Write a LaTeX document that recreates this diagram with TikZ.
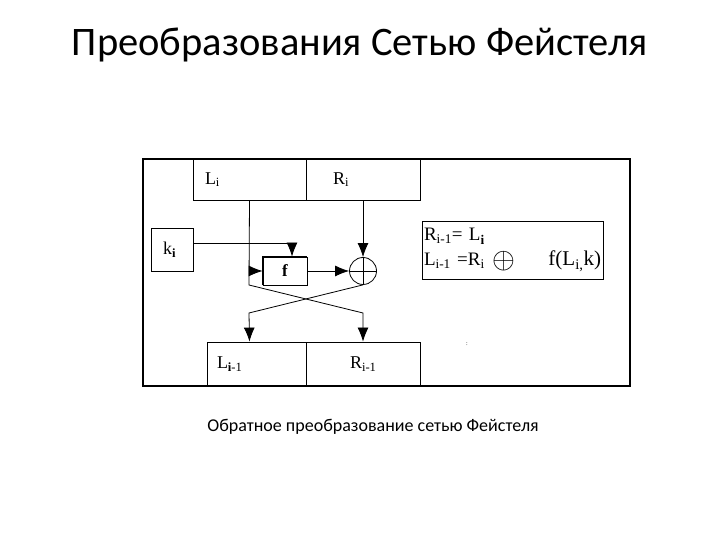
\documentclass[tikz,border=0pt]{standalone}
\usepackage{fontspec}
\setmainfont{Liberation Serif}
\newfontfamily\slidefont{Carlito}
\usetikzlibrary{arrows.meta}
\tikzset{
  cell/.style={draw,minimum height=41pt,inner ysep=0pt,align=left,font=\fontsize{18}{18}\selectfont},
  arr/.style={-{Latex[length=14pt,width=11pt]}}
}
\begin{document}
\begin{tikzpicture}[x=1pt,y=1pt,line width=0.8pt]
\useasboundingbox (0,0) rectangle (720,540);
\node[font=\slidefont\fontsize{40.5}{40.5}\selectfont] (title) at (360,495) {Преобразования Сетью Фейстеля};
\draw[line width=1.6pt] (143,154) rectangle (630,381);
% blocks
\node[cell,text width=89pt,inner xsep=12pt] (li) at (249.5,360.5) {L\textsubscript{i}};
\node[cell,text width=60pt,inner xsep=27pt] (ri) at (363,360.5) {R\textsubscript{i}};
\node[cell,text width=18pt,inner xsep=12pt,minimum height=43pt] (ki) at (172,290.5) {k\textsubscript{\textbf{i}}};
\node[draw,minimum width=44pt,minimum height=28pt,inner sep=0pt,font=\fontsize{17}{17}\selectfont\bfseries] (f) at (285,269) {f};
\draw[line width=1.8pt] (f.south west) -- (f.north west) -- (f.north east);
\node[draw,circle,minimum size=27pt,inner sep=0pt] (xor) at (363,269) {};
\draw (xor.north) -- (xor.south) (xor.west) -- (xor.east);
\node[cell,text width=79pt,inner xsep=10pt,minimum height=44pt] (lo) at (256.5,176) {L\textsubscript{\textbf{i}-1}};
\node[cell,text width=26pt,inner xsep=44pt,minimum height=44pt] (ro) at (363,176) {R\textsubscript{i-1}};
% rule
\node[draw,text width=177pt,minimum height=58pt,inner xsep=2pt,inner ysep=2pt,align=left,font=\fontsize{19}{25}\selectfont] (rule) at (512.5,290)
  {R\textsubscript{i-1}= L\textsubscript{\textbf{i}}\\L\textsubscript{i-1} =R\textsubscript{i}\hspace{8pt}\raisebox{-3pt}{\scalebox{1.7}{$\oplus$}}\hfill{\fontsize{21}{25}\selectfont f(L\textsubscript{i,}k)}};
\node[font=\fontsize{6}{6}\selectfont] (dots) at (467,196) {:};
% connections
\coordinate (lbend) at (249,255);
\coordinate (xl) at (249,227);
\coordinate (xr) at (363,227);
\draw[arr] (li.south) -- (lbend) -- (xr) -- (ro.north);
\draw[arr] (xor.south) -- (xl) -- (lo.north -| li.south);
\draw[arr] (li.south |- f.west) -- (f.west);
\draw[arr] ([yshift=6pt]ki.east) -| ([xshift=7pt]f.north);
\draw[arr] (f.east) -- (xor.west);
\draw[arr] (ri.south) -- (xor.north);
\node[font=\slidefont\fontsize{18}{18}\selectfont] (caption) at (373,113) {Обратное преобразование сетью Фейстеля};
\end{tikzpicture}
\end{document}
